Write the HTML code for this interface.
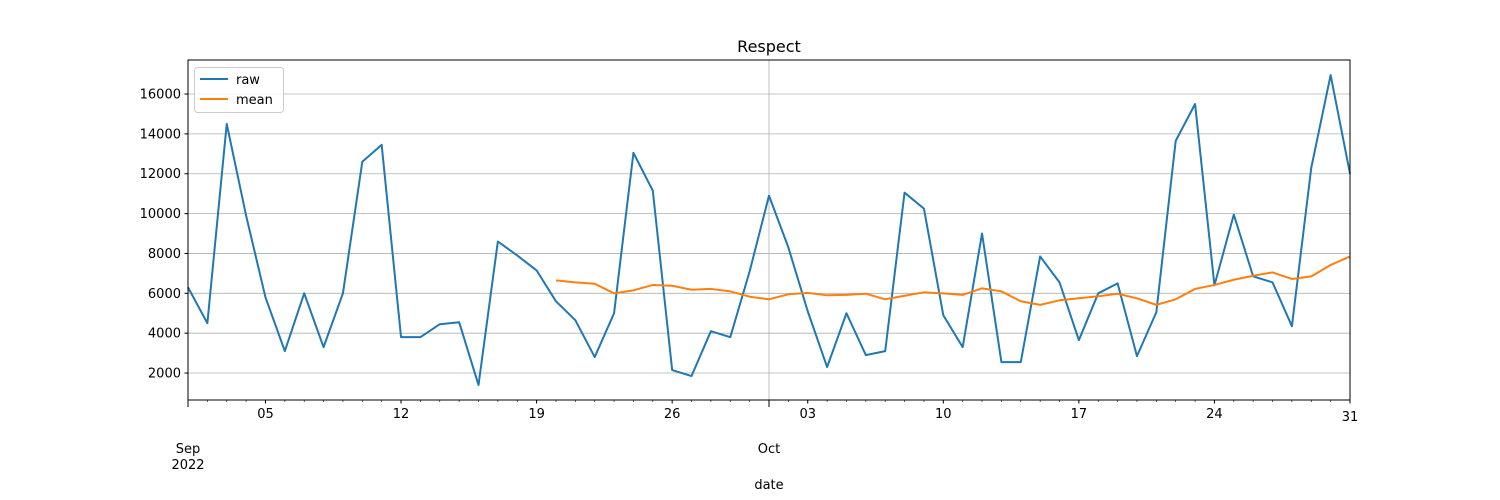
<!DOCTYPE html>
<html><head><meta charset="utf-8"><style>
body{margin:0;background:#fff}
svg{display:block;font-family:"DejaVu Sans","Liberation Sans",sans-serif}
</style></head><body>
<svg id="chart" width="1500" height="500" xmlns="http://www.w3.org/2000/svg">
<text x="769" y="52" text-anchor="middle" font-size="16">Respect</text>
<g id="grid"></g><g id="axes"></g><g id="series"></g>
<rect x="188" y="60" width="1162" height="340" fill="none" stroke="#000" stroke-width="1"/>
<text x="769" y="489" text-anchor="middle" font-size="13">date</text>
<g>
<rect x="194.5" y="67.5" width="89" height="45" rx="3" fill="#fff" fill-opacity="0.8" stroke="#ccc"/>
<line x1="200" y1="79" x2="228" y2="79" stroke="#1f77b4" stroke-width="2"/>
<text x="236" y="84" font-size="13">raw</text>
<line x1="200" y1="99" x2="228" y2="99" stroke="#ff7f0e" stroke-width="2"/>
<text x="236" y="104" font-size="13">mean</text>
</g>
</svg>
<script>
const rawValues=[6300,4500,14500,9900,5800,3100,6000,3300,6000,12600,13450,3800,3800,4450,4550,1400,8600,7900,7150,5600,4650,2800,5000,13050,11150,2150,1850,4100,3800,7100,10900,8300,5100,2300,5000,2900,3100,11050,10250,4900,3300,9000,2550,2550,7850,6550,3650,6000,6500,2850,5050,13650,15500,6400,9950,6850,6550,4350,12300,16950,12000];
const meanStart=19;
const meanValues=[6650,6550,6480,6000,6150,6420,6380,6180,6220,6100,5830,5700,5950,6020,5900,5920,5980,5700,5880,6050,6000,5920,6250,6100,5600,5420,5650,5750,5850,5980,5750,5420,5700,6220,6420,6680,6880,7050,6720,6850,7420,7850];
const yTicks=[2000,4000,6000,8000,10000,12000,14000,16000];
const weekTickDays=[4,11,18,25,32,39,46,53,60];
const weekTickLabels=["05","12","19","26","03","10","17","24","31"];
const monthTickDays=[0,30];
const monthTickLabels=[["Sep","2022"],["Oct"]];
const NS="http://www.w3.org/2000/svg";
const x0=188,x1=1350,y0=400,y1=60,dayMax=60,vMin=647,vMax=17707;
const X=d=>x0+(x1-x0)*d/dayMax;
const Y=v=>y0-(y0-y1)*(v-vMin)/(vMax-vMin);
function mk(tag,attrs,parent,text){const e=document.createElementNS(NS,tag);for(const k in attrs)e.setAttribute(k,attrs[k]);if(text!==undefined)e.textContent=text;document.getElementById(parent).appendChild(e);return e;}
yTicks.forEach(v=>{
 const g=mk('line',{x1:x0,x2:x1,y1:Y(v),y2:Y(v),stroke:'#b0b0b0','stroke-width':0.8},'grid');
 
 
 const t=mk('line',{x1:x0-3.5,x2:x0,y1:Y(v),y2:Y(v),stroke:'#000'},'axes');
 
 
 const l=mk('text',{x:x0-7,y:Y(v)+4.5,'text-anchor':'end','font-size':13},'axes',String(v));
 
 
});
for(let d=0;d<=dayMax;d++){
 const t=mk('line',{x1:X(d),x2:X(d),y1:y0,y2:y0+2,stroke:'#000','stroke-width':0.6},'axes');
 
 
}
weekTickDays.forEach((d,i)=>{
 const t=mk('line',{x1:X(d),x2:X(d),y1:y0,y2:y0+3.5,stroke:'#000'},'axes');
 
 
 const l=mk('text',{x:X(d),y:d==dayMax?421:418,'text-anchor':'middle','font-size':13},'axes',weekTickLabels[i]);
 
 
});
monthTickDays.forEach((d,i)=>{
 const g=mk('line',{x1:X(d),x2:X(d),y1:y0,y2:y1,stroke:'#b0b0b0','stroke-width':0.8},'grid');
 
 
 const t=mk('line',{x1:X(d),x2:X(d),y1:y0,y2:y0+7,stroke:'#000'},'axes');
 
 
 monthTickLabels[i].forEach((s,j)=>{
  const l=mk('text',{x:X(d),y:453+j*16,'text-anchor':'middle','font-size':13},'axes',s);
  
  
 });
});
const rp=mk('polyline',{points:rawValues.map((v,i)=>X(i)+','+Y(v)).join(' '),fill:'none',stroke:'#1f77b4','stroke-width':2,'stroke-linejoin':'round'},'series');


const mp=mk('polyline',{points:meanValues.map((v,i)=>X(i+meanStart)+','+Y(v)).join(' '),fill:'none',stroke:'#ff7f0e','stroke-width':2,'stroke-linejoin':'round'},'series');


</script>
</body></html>
